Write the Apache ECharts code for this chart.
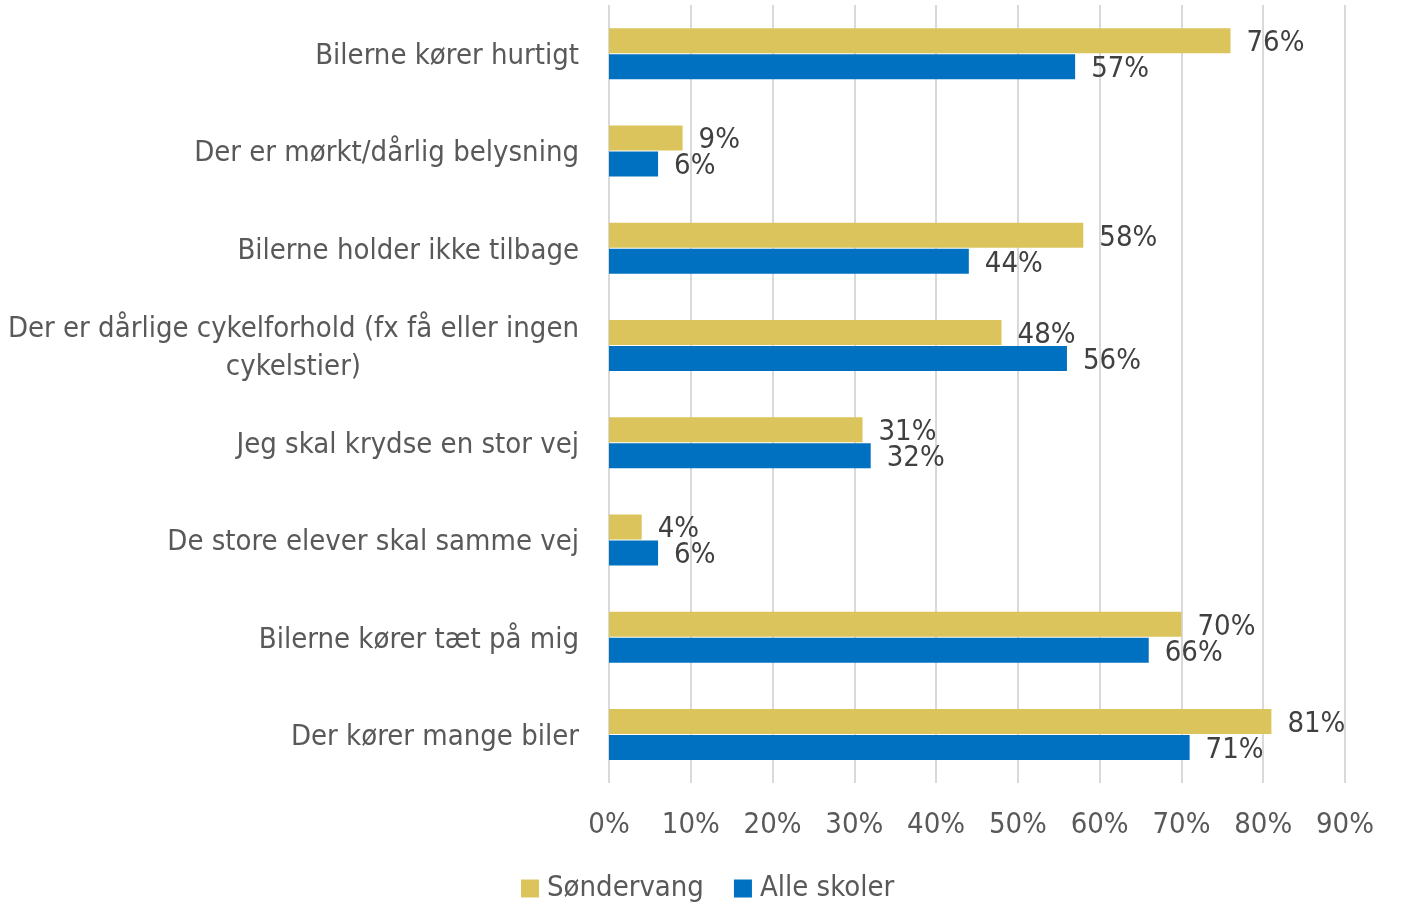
<!DOCTYPE html>
<html>
<head>
<meta charset="utf-8">
<script src="https://cdn.jsdelivr.net/npm/echarts@6/dist/echarts.min.js"></script>
<style>
  html, body { margin: 0; padding: 0; background: #fff; }
  #chart { width: 1401px; height: 904px; }
</style>
</head>
<body>
<div id="chart"></div>
<script>
const categories = [
  'Bilerne kører hurtigt',
  'Der er mørkt/dårlig belysning',
  'Bilerne holder ikke tilbage',
  'Der er dårlige cykelforhold (fx få eller ingen\ncykelstier)',
  'Jeg skal krydse en stor vej',
  'De store elever skal samme vej',
  'Bilerne kører tæt på mig',
  'Der kører mange biler'
]
const sondervang = [76, 9, 58, 48, 31, 4, 70, 81]
const alleSkoler = [57, 6, 44, 56, 32, 6, 66, 71]

const font = '"DejaVu Sans Condensed", sans-serif'

const chart = echarts.init(document.getElementById('chart'))
const labelStyle = {
  show: true,
  position: 'right',
  distance: 16,
  offset: [0, 3],
  formatter: '{c}%',
  color: '#404040',
  fontSize: 29,
  fontFamily: font
}
const option = {
  textStyle: { fontFamily: font },
  grid: { left: 609, right: 56, top: 5, bottom: 121, containLabel: false },
  legend: {
    bottom: -4,
    left: 516,
    itemWidth: 18,
    itemHeight: 18,
    itemGap: 30,
    icon: 'rect',
    textStyle: { color: '#595959', fontSize: 29, fontFamily: font, padding: [0, 0, 0, 3] },
    data: ['Søndervang', 'Alle skoler']
  },
  xAxis: {
    type: 'value',
    min: 0,
    max: 90,
    interval: 10,
    axisLine: { show: false },
    axisTick: { show: false },
    axisLabel: { formatter: '{value}%', color: '#595959', fontSize: 29, margin: 28, fontFamily: font },
    splitLine: { lineStyle: { color: '#d9d9d9', width: 2 } }
  },
  yAxis: {
    type: 'category',
    inverse: true,
    data: categories,
    axisLine: { show: false },
    axisTick: { show: false },
    axisLabel: {
      color: '#595959',
      fontSize: 29,
      margin: 30,
      lineHeight: 38,
      align: 'right',
      padding: [6, 0, 0, 0],
      fontFamily: font,
      formatter: function (v) {
        return v.split('\n').map(function (s) { return '{c|' + s + '}' }).join('\n')
      },
      rich: {
        c: { align: 'center', color: '#595959', fontSize: 29, lineHeight: 38, fontFamily: font }
      }
    }
  },
  series: [
    {
      name: 'Søndervang',
      type: 'bar',
      data: sondervang,
      barWidth: 25,
      barGap: '4%',
      itemStyle: { color: '#dcc45c' },
      label: labelStyle,
      z: 2
    },
    {
      name: 'Alle skoler',
      type: 'bar',
      data: alleSkoler,
      barWidth: 25,
      itemStyle: { color: '#0070c0' },
      label: labelStyle,
      z: 2
    }
  ]
}
chart.setOption(option)
</script>
</body>
</html>
